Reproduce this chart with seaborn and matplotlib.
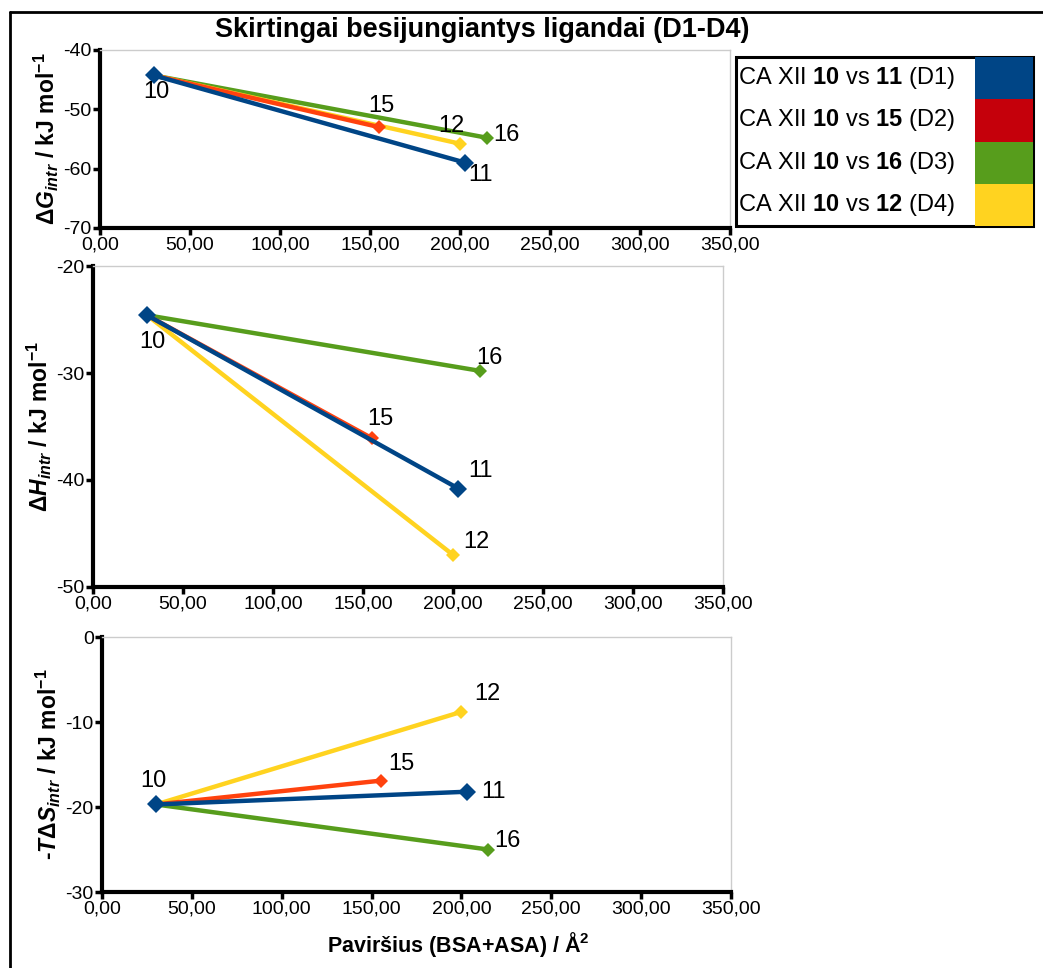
import matplotlib.pyplot as plt
import numpy as np
import pandas as pd
import seaborn as sns
from matplotlib.patches import Rectangle
from matplotlib.lines import Line2D

sns.set_style('white')
plt.rcParams['font.family'] = ['Liberation Sans', 'DejaVu Sans']
plt.rcParams['mathtext.fontset'] = 'custom'
plt.rcParams['mathtext.rm'] = 'Liberation Sans'
plt.rcParams['mathtext.it'] = 'Liberation Sans:italic'
plt.rcParams['mathtext.bf'] = 'Liberation Sans:bold'
plt.rcParams['mathtext.bfit'] = 'Liberation Sans:bold:italic'
plt.rcParams['axes.unicode_minus'] = False
for k in ['text.color', 'axes.labelcolor', 'xtick.color', 'ytick.color']:
    plt.rcParams[k] = 'black'

# ligands: 10 is the reference, the rest are endpoints of each pair
ligands = ['10', '11', '15', '16', '12']
surface = [30, 203, 155, 215, 200]
dG = [-44.3, -59.0, -53.0, -54.8, -55.8]
dH = [-24.6, -40.8, -36.1, -29.8, -47.0]
mTdS = [-19.7, -18.2, -16.9, -25.0, -8.8]

pairs = ['D1', 'D2', 'D3', 'D4']
pair_end = ['11', '15', '16', '12']
pair_text = ['CA XII $\\mathbf{10}$ vs $\\mathbf{11}$ (D1)',
             'CA XII $\\mathbf{10}$ vs $\\mathbf{15}$ (D2)',
             'CA XII $\\mathbf{10}$ vs $\\mathbf{16}$ (D3)',
             'CA XII $\\mathbf{10}$ vs $\\mathbf{12}$ (D4)']
line_colors = {'D1': '#004586', 'D2': '#ff420e', 'D3': '#579d1c', 'D4': '#ffd320'}
swatch_colors = ['#004586', '#c5000b', '#579d1c', '#ffd320']
draw_order = ['D3', 'D4', 'D2', 'D1']

pts = pd.DataFrame({'lig': ligands, 'x': surface, 'dG': dG, 'dH': dH, 'mTdS': mTdS}).set_index('lig')

rows = []
for p, end in zip(pairs, pair_end):
    for lig in ['10', end]:
        rows.append({'pair': p, 'lig': lig, 'x': pts.loc[lig, 'x'],
                     'dG': pts.loc[lig, 'dG'], 'dH': pts.loc[lig, 'dH'],
                     'mTdS': pts.loc[lig, 'mTdS']})
df = pd.DataFrame(rows)

fig = plt.figure(figsize=(10.43, 9.68), dpi=100)

panels = [
    ('dG', [0.0959, 0.7645, 0.604, 0.1839], (-70, -40),
     '$\\mathbf{\\Delta}\\mathbfit{G}_{\\mathbfit{intr}}$ / kJ mol$^{\\mathbf{-1}}$',
     {'10': (2, -12), '11': (11, -9), '15': (2, 15), '12': (-6, 13), '16': (14, 2)}),
    ('dH', [0.0892, 0.3936, 0.604, 0.3316], (-50, -20),
     '$\\mathbf{\\Delta}\\mathbfit{H}_{\\mathbfit{intr}}$ / kJ mol$^{\\mathbf{-1}}$',
     {'10': (4, -19), '11': (16, 13), '15': (6, 14), '12': (17, 9), '16': (7, 9)}),
    ('mTdS', [0.0978, 0.0785, 0.603, 0.2634], (-30, 0),
     '-$\\mathbfit{T}\\mathbf{\\Delta}\\mathbfit{S}_{\\mathbfit{intr}}$ / kJ mol$^{\\mathbf{-1}}$',
     {'10': (-2, 17), '11': (19, 0), '15': (15, 12), '12': (19, 13), '16': (14, 6)}),
]

for col, rect, ylim, ylabel, offs in panels:
    ax = fig.add_axes(rect)
    for p in draw_order:
        sub = df[df['pair'] == p]
        ms = 9 if p == 'D1' else 7
        sns.lineplot(data=sub, x='x', y=col, ax=ax, color=line_colors[p],
                     linewidth=3.2, marker='D', markersize=ms,
                     sort=False, legend=False, zorder=3)
    for ln in ax.lines:
        ln.set_markeredgewidth(0)
    for lig in ligands:
        ax.annotate(lig, (pts.loc[lig, 'x'], pts.loc[lig, col]),
                    xytext=offs[lig], textcoords='offset points',
                    ha='center', va='center', fontsize=17)
    ax.set_xlim(0, 350)
    ax.set_ylim(*ylim)
    ax.set_xticks(np.arange(0, 351, 50))
    ax.set_xticklabels([f'{v:.2f}'.replace('.', ',') for v in np.arange(0, 351, 50)])
    ax.set_yticks(np.arange(ylim[0], ylim[1] + 1, 10))
    ax.set_xlabel('')
    ax.set_ylabel(ylabel, fontsize=16.5, fontweight='bold')
    ax.tick_params(axis='both', labelsize=14, length=5, width=2.5,
                   direction='out', color='black', pad=1, left=True, bottom=True)
    for s in ['left', 'bottom']:
        ax.spines[s].set_color('black')
        ax.spines[s].set_linewidth(3)
    for s in ['top', 'right']:
        ax.spines[s].set_color('#cccccc')
        ax.spines[s].set_linewidth(1)
    ax.yaxis.set_label_coords(-0.062, 0.5)

fig.text(0.462, 0.969, 'Skirtingai besijungiantys ligandai (D1-D4)',
         ha='center', va='center', fontsize=19.5, fontweight='bold')
fig.text(0.439, 0.024, 'Paviršius (BSA+ASA) / Å$^{\\mathbf{2}}$',
         ha='center', va='center', fontsize=15.5, fontweight='bold')

# legend box drawn by hand: text column + colour swatches
lx0, ly0, lw, lh = 736 / 1043, 1 - 226 / 968, 297 / 1043, 169 / 968
fig.patches.append(Rectangle((lx0, ly0), lw, lh, transform=fig.transFigure,
                             facecolor='white', edgecolor='black', linewidth=2.2, zorder=5))
sw_x = 975 / 1043
row_h = lh / 4
for i, (txt, c) in enumerate(zip(pair_text, swatch_colors)):
    yb = ly0 + lh - (i + 1) * row_h
    fig.patches.append(Rectangle((sw_x, yb), lx0 + lw - sw_x, row_h, transform=fig.transFigure,
                                 facecolor=c, edgecolor='none', zorder=6))
    fig.text(lx0 + 0.002, yb + row_h / 2, txt, ha='left', va='center', fontsize=17, zorder=7)

# outer frame
fig.lines.append(Line2D([10 / 1043, 10 / 1043], [0, 1 - 12 / 968], transform=fig.transFigure,
                        color='black', linewidth=2))
fig.lines.append(Line2D([10 / 1043, 1], [1 - 12 / 968, 1 - 12 / 968], transform=fig.transFigure,
                        color='black', linewidth=2))

fig.savefig('out.png', dpi=100, facecolor='white')
